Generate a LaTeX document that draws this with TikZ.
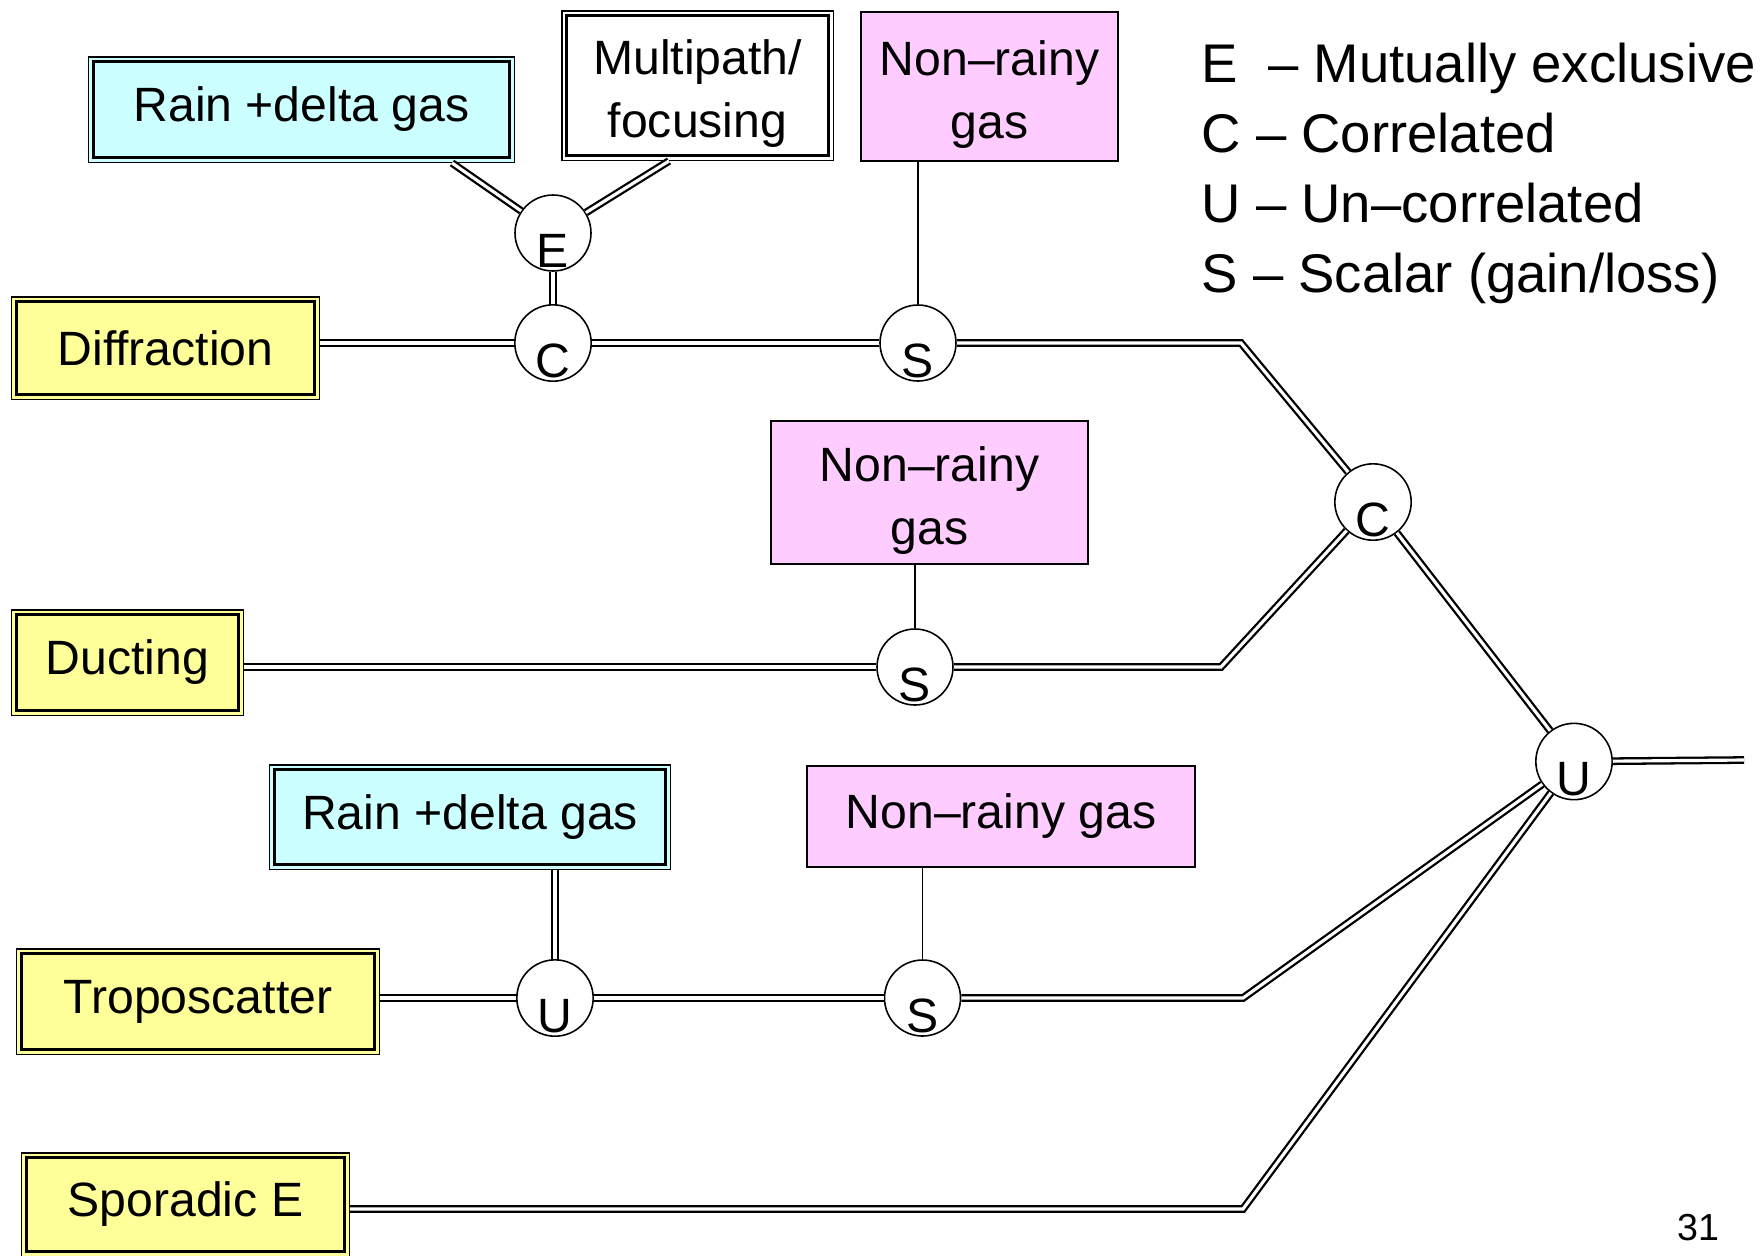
\documentclass[tikz,border=0pt]{standalone}
\usepackage{fontspec}
\setmainfont{Liberation Sans}
\definecolor{raincol}{HTML}{CCFFFF}
\definecolor{gascol}{HTML}{FFCCFF}
\definecolor{pathcol}{HTML}{FFFF99}
\newcommand{\topstrut}{\rule{0pt}{14.6pt}}

\begin{document}
\begin{tikzpicture}[
    dbox/.style={rectangle, draw, fill=#1, line width=0.85pt, outer sep=1.56pt, inner sep=0pt,
        preaction={draw=black, line width=3.13pt}, preaction={draw=#1, line width=2.28pt},
        align=center, font={\fontsize{13.7}{18}\selectfont}},
    sbox/.style={rectangle, draw, fill=#1, line width=0.45pt, inner sep=0pt,
        align=center, font={\fontsize{13.7}{18}\selectfont}},
    junc/.style={circle, draw, fill=white, line width=0.45pt, minimum size=0.76cm, inner sep=0pt,
        text height=0.68cm, text depth=0pt, font={\fontsize{13.7}{15.5}\selectfont}},
    dline/.style={double, line width=0.65pt, double distance=0.9pt},
    sline/.style={line width=0.5pt},
    legend/.style={anchor=base west, inner sep=0pt, font={\fontsize{15.5}{18}\selectfont}}]
    \useasboundingbox (0, 0) rectangle (17.64, -12.55);

    % Kaesten
    \node[dbox=raincol, minimum width=4.16cm, minimum height=0.96cm] (rainA) at (3.015, -1.095) {Rain +delta gas};
    \node[dbox=white, minimum width=2.62cm, minimum height=1.40cm] (multi) at (6.975, -0.855) {\topstrut Multipath/\\focusing};
    \node[sbox=gascol, minimum width=2.57cm, minimum height=1.49cm] (gasA) at (9.895, -0.865) {\topstrut Non–rainy\\gas};
    \node[dbox=pathcol, minimum width=2.98cm, minimum height=0.93cm] (diff) at (1.655, -3.48) {Diffraction};
    \node[sbox=gascol, minimum width=3.17cm, minimum height=1.43cm] (gasB) at (9.295, -4.925) {\topstrut Non–rainy\\gas};
    \node[dbox=pathcol, minimum width=2.22cm, minimum height=0.96cm] (duct) at (1.275, -6.625) {Ducting};
    \node[dbox=raincol, minimum width=3.91cm, minimum height=0.95cm] (rainB) at (4.70, -8.17) {Rain +delta gas};
    \node[sbox=gascol, minimum width=3.88cm, minimum height=1.01cm] (gasC) at (10.01, -8.165) {Non–rainy gas};
    \node[dbox=pathcol, minimum width=3.53cm, minimum height=0.96cm] (tropo) at (1.98, -10.015) {Troposcatter};
    \node[dbox=pathcol, minimum width=3.18cm, minimum height=0.94cm] (spor) at (1.855, -12.045) {Sporadic E};

    % Verknuepfungen
    \node[junc] (e1) at (5.53, -2.33) {E};
    \node[junc] (c1) at (5.53, -3.43) {C};
    \node[junc] (s1) at (9.18, -3.43) {S};
    \node[junc] (c2) at (13.73, -5.02) {C};
    \node[junc] (s2) at (9.15, -6.67) {S};
    \node[junc] (u2) at (15.74, -7.615) {U};
    \node[junc] (u1) at (5.55, -9.98) {U};
    \node[junc] (s3) at (9.225, -9.98) {S};

    % Knicke
    \coordinate (k1) at (12.41, -3.43);
    \coordinate (k2) at (12.21, -6.67);
    \coordinate (k3) at (12.43, -9.98);
    \coordinate (k4) at (12.43, -12.09);
    \coordinate (out) at (17.44, -7.60);

    % Linien
    \draw[dline] (e1) -- ([xshift=1.505cm]rainA.south);
    \draw[dline] (e1) -- ([xshift=-0.285cm]multi.south);
    \draw[dline] (e1) -- (c1);
    \draw[dline] (c1) -- (c1 -| diff.east);
    \draw[dline] (c1) -- (s1);
    \draw[sline] (s1) -- (s1 |- gasA.south);
    \draw[dline] (s1) -- (k1) -- (c2);
    \draw[dline] (s2) -- (s2 -| duct.east);
    \draw[sline] (s2) -- (s2 |- gasB.south);
    \draw[dline] (s2) -- (k2) -- (c2);
    \draw[dline] (c2) -- (u2);
    \draw[dline] (u2) -- (out);
    \draw[dline] (u1) -- (u1 -| tropo.east);
    \draw[dline] (u1) -- (u1 |- rainB.south);
    \draw[dline] (u1) -- (s3);
    \draw[sline] (s3) -- (s3 |- gasC.south);
    \draw[dline] (s3) -- (k3) -- (u2);
    \draw[dline] (k4 -| spor.east) -- (k4) -- (u2);

    % Legende
    \node[legend] (legE) at (12.01, -0.82) {E~~– Mutually exclusive};
    \node[legend] (legC) at (12.01, -1.52) {C – Correlated};
    \node[legend] (legU) at (12.01, -2.22) {U – Un–correlated};
    \node[legend] (legS) at (12.01, -2.92) {S – Scalar (gain/loss)};

    \node[font={\fontsize{10.7}{13}\selectfont}] (page) at (16.98, -12.28) {31};
\end{tikzpicture}
\end{document}
